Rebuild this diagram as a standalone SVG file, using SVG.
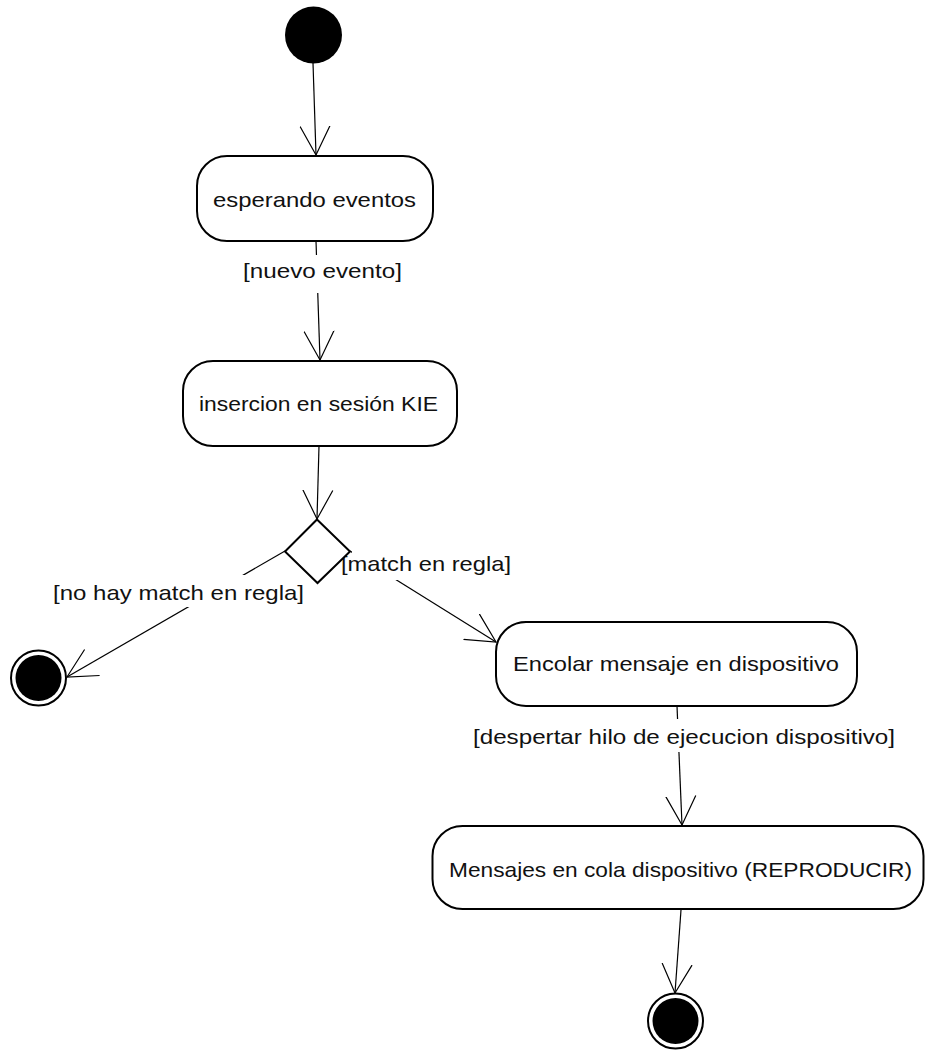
<svg xmlns="http://www.w3.org/2000/svg" width="926" height="1050" viewBox="0 0 926 1050">
  <style>
    .state { fill: #ffffff; stroke: #000000; stroke-width: 2; }
    .label { font-family: "Liberation Sans", Arial, sans-serif; font-size: 21px; fill: #111111; }
    .edge { stroke: #000000; stroke-width: 1.2; fill: none; }
    .guard-bg { fill: #ffffff; stroke: none; }
  </style>
  <defs>
    <marker id="open-arrow" markerUnits="userSpaceOnUse" viewBox="0 0 31 32" refX="29" refY="16" markerWidth="31" markerHeight="32" orient="auto">
      <path d="M0,1 L29,16 L0,31" fill="none" stroke="#000000" stroke-width="1.2"/>
    </marker>
  </defs>

  <rect width="926" height="1050" fill="#ffffff"/>

  <!-- transitions -->
  <g id="connectors">
    <line class="edge" x1="313" y1="63" x2="316" y2="155" marker-end="url(#open-arrow)"/>
    <line class="edge" x1="316" y1="241" x2="320" y2="360" marker-end="url(#open-arrow)"/>
    <line class="edge" x1="319" y1="446" x2="317" y2="519" marker-end="url(#open-arrow)"/>
    <line class="edge" x1="285" y1="551" x2="67" y2="677" marker-end="url(#open-arrow)"/>
    <line class="edge" x1="350" y1="551" x2="496" y2="642" marker-end="url(#open-arrow)"/>
    <line class="edge" x1="677" y1="706" x2="682" y2="825" marker-end="url(#open-arrow)"/>
    <line class="edge" x1="681" y1="910" x2="675" y2="993" marker-end="url(#open-arrow)"/>

    <!-- guard labels -->
    <rect class="guard-bg" x="241" y="255" width="163" height="38"/>
    <text class="label" x="243" y="278" textLength="159" lengthAdjust="spacingAndGlyphs">[nuevo evento]</text>

    <rect class="guard-bg" x="51" y="575" width="254" height="32"/>
    <text class="label" x="53" y="600" textLength="251" lengthAdjust="spacingAndGlyphs">[no hay match en regla]</text>

    <rect class="guard-bg" x="352" y="548" width="160" height="32"/>
    <text class="label" x="341" y="571" textLength="170" lengthAdjust="spacingAndGlyphs">[match en regla]</text>

    <rect class="guard-bg" x="471" y="719" width="426" height="33"/>
    <text class="label" x="473" y="744" textLength="422" lengthAdjust="spacingAndGlyphs">[despertar hilo de ejecucion dispositivo]</text>
  </g>

  <!-- initial node -->
  <g id="initial">
    <circle cx="313.5" cy="35" r="28.5" fill="#000000"/>
  </g>

  <g id="esperando-eventos">
    <rect class="state" x="197" y="156" width="236" height="85" rx="30" ry="30"/>
    <text class="label" x="213" y="207" textLength="203" lengthAdjust="spacingAndGlyphs">esperando eventos</text>
  </g>

  <g id="insercion-sesion">
    <rect class="state" x="183" y="361" width="274" height="85" rx="30" ry="30"/>
    <text class="label" x="199" y="411" textLength="239" lengthAdjust="spacingAndGlyphs">insercion en sesión KIE</text>
  </g>

  <g id="decision">
    <polygon class="state" points="317,519.5 350,551.5 317.5,583 285,551.5"/>
  </g>

  <g id="final-no-match">
    <circle cx="38.5" cy="678" r="27.5" fill="#ffffff" stroke="#000000" stroke-width="2"/>
    <circle cx="38.5" cy="678" r="23" fill="#000000"/>
  </g>

  <g id="encolar-mensaje">
    <rect class="state" x="496" y="622" width="361" height="84" rx="30" ry="30"/>
    <text class="label" x="513" y="671" textLength="326" lengthAdjust="spacingAndGlyphs">Encolar mensaje en dispositivo</text>
  </g>

  <g id="mensajes-cola">
    <rect class="state" x="432.5" y="826" width="491" height="83" rx="30" ry="30"/>
    <text class="label" x="449" y="877" textLength="463" lengthAdjust="spacingAndGlyphs">Mensajes en cola dispositivo (REPRODUCIR)</text>
  </g>

  <g id="final">
    <circle cx="675.5" cy="1021" r="27.5" fill="#ffffff" stroke="#000000" stroke-width="2"/>
    <circle cx="675.5" cy="1021" r="23" fill="#000000"/>
  </g>
</svg>
